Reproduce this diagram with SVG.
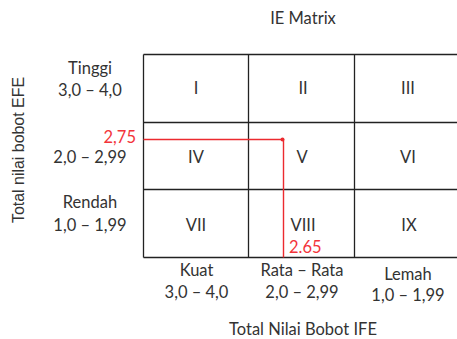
<svg xmlns="http://www.w3.org/2000/svg" width="457" height="339" viewBox="0 0 457 339">
<style>
.t{font-family:Lato,"Liberation Sans",sans-serif;font-size:16.5px;fill:#333;text-anchor:middle}
.r{fill:#f3343a}
.g{stroke:#222;stroke-width:1.3;fill:none}
.red{stroke:#ec2a2f;stroke-width:1.4;fill:none}
.ax{font-family:"Liberation Sans",Arial,sans-serif;font-size:16px;fill:#333;text-anchor:middle}
</style>
<rect width="457" height="339" fill="#fff"/>
<g id="title"><text class="t" x="303" y="24">IE Matrix</text></g>
<g id="grid">
<path class="g" d="M143.5 54.5H460M143.5 122.5H460M143.5 189.5H460M143.5 257.5H460M143.5 54.5V257.5M248.5 54.5V257.5M354.5 54.5V257.5"/>
</g>
<g id="cell-I"><text class="t" x="196" y="94">I</text></g>
<g id="cell-II"><text class="t" x="303" y="94">II</text></g>
<g id="cell-III"><text class="t" x="408" y="94">III</text></g>
<g id="cell-IV"><text class="t" x="196" y="163">IV</text></g>
<g id="cell-V"><text class="t" x="302" y="163">V</text></g>
<g id="cell-VI"><text class="t" x="408" y="163">VI</text></g>
<g id="cell-VII"><text class="t" x="196" y="231">VII</text></g>
<g id="cell-VIII"><text class="t" x="303" y="231">VIII</text></g>
<g id="cell-IX"><text class="t" x="409" y="231">IX</text></g>
<g id="row-labels">
<text class="t" x="90" y="74">Tinggi</text>
<text class="t" x="90" y="96">3,0 – 4,0</text>
<text class="t" x="90" y="163">2,0 – 2,99</text>
<text class="t" x="90" y="208">Rendah</text>
<text class="t" x="90" y="231">1,0 – 1,99</text>
</g>
<g id="col-labels">
<text class="t" x="196.5" y="276">Kuat</text>
<text class="t" x="196.5" y="298">3,0 – 4,0</text>
<text class="t" x="302" y="276">Rata – Rata</text>
<text class="t" x="302" y="298">2,0 – 2,99</text>
<text class="t" x="408" y="280">Lemah</text>
<text class="t" x="408" y="301">1,0 – 1,99</text>
</g>
<g id="axis-titles">
<text class="t" x="303" y="335">Total Nilai Bobot IFE</text>
<text class="ax" transform="translate(24 150) rotate(-90)" x="0" y="0" textLength="146" lengthAdjust="spacingAndGlyphs">Total nilai bobot EFE</text>
</g>
<g id="connectors">
<path class="red" d="M143.5 139.5H282.5M283.5 139.5V257.5"/>
<circle cx="282.5" cy="139.5" r="2" fill="#ec2a2f"/>
</g>
<g id="markers">
<text class="t r" x="136" y="143" style="text-anchor:end">2,75</text>
<text class="t r" x="289" y="253" style="text-anchor:start">2.65</text>
</g>
</svg>
